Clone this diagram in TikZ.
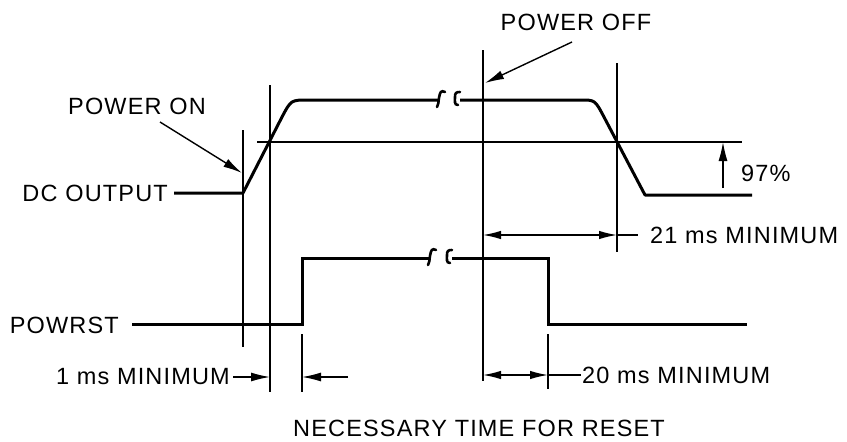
\documentclass[tikz,border=0pt]{standalone}
\usepackage{fontspec}
\setmainfont{Liberation Sans}[LetterSpace=5]
\usetikzlibrary{arrows.meta}
\tikzset{
  wave/.style={line width=3pt, line join=round},
  guide/.style={line width=1.3pt},
  dimarrow/.style={line width=1.4pt, -{Latex[length=19pt,width=9pt]}},
  dimboth/.style={line width=1.4pt, {Latex[length=18pt,width=8.5pt]}-{Latex[length=18pt,width=8.5pt]}},
  lbl/.style={inner sep=0pt, font=\fontsize{23.5}{26}\selectfont},
  brk/.style={line width=2.6pt, line cap=round}
}
\begin{document}
\begin{tikzpicture}[x=1pt,y=-1pt]
\useasboundingbox (0,0) rectangle (847,442);
% labels
\node[lbl, anchor=east] (dclbl) at (168,193) {DC OUTPUT};
\node[lbl, anchor=east] (rstlbl) at (119,325) {POWRST};
\node[lbl] (pon) at (137,106) {POWER ON};
\node[lbl] (poff) at (576,22) {POWER OFF};
\node[lbl, anchor=west] (pct) at (741,173) {97\%};
\node[lbl, anchor=west] (t21) at (650,235) {21 ms MINIMUM};
\node[lbl, anchor=west] (t20) at (582,375) {20 ms MINIMUM};
\node[lbl, anchor=east] (t1) at (230,377) {1 ms MINIMUM};
\node[lbl] (cap) at (479,428) {NECESSARY TIME FOR RESET};
% coordinates
\coordinate (dc0) at (174,193);
\coordinate (dc1) at (243,193);
\coordinate (dcr) at (282,117);
\coordinate (dcc) at (291,100);
\coordinate (dct) at (308,100);
\coordinate (dcb1) at (438,100);
\coordinate (dcb2) at (460,100);
\coordinate (dcf) at (581,100);
\coordinate (dcfc) at (595,100);
\coordinate (dcfr) at (604,117);
\coordinate (dcl) at (645,195);
\coordinate (dce) at (752,195);
\coordinate (r0) at (132,324);
\coordinate (r1) at (302,324);
\coordinate (r2) at (302,258);
\coordinate (rb1) at (429,258);
\coordinate (rb2) at (452,258);
\coordinate (r3) at (548,258);
\coordinate (r4) at (548,324);
\coordinate (r5) at (747,324);
\coordinate (p97a) at (257,142);
\coordinate (p97b) at (742,142);
% vertical guides
\coordinate (v1t) at (243,130); \coordinate (v1b) at (243,347);
\coordinate (v2t) at (270,85);  \coordinate (v2b) at (270,392);
\coordinate (v3t) at (302,334); \coordinate (v3b) at (302,392);
\coordinate (v4t) at (483,50);  \coordinate (v4b) at (483,381);
\coordinate (v5t) at (617,63);  \coordinate (v5b) at (617,252);
\coordinate (v6t) at (548,334); \coordinate (v6b) at (548,389);
% waveforms
\draw[wave] (dc0) -- (dc1) -- (dcr) .. controls (dcc) .. (dct) -- (dcb1);
\draw[wave] (dcb2) -- (dcf) .. controls (dcfc) .. (dcfr) -- (dcl) -- (dce);
\draw[wave, line join=miter] (r0) -- (r1) -- (r2) -- (rb1);
\draw[wave, line join=miter] (rb2) -- (r3) -- (r4) -- (r5);
% break marks
\draw[brk] (dcb1) ++(7,-8) .. controls +(-4,-2) and +(1,-6) .. ++(-6,6) .. controls +(-1,5) and +(2,-3) .. ++(-2,9);
\draw[brk] (dcb2) ++(0,-8) .. controls +(-4,0) and +(0,-4) .. ++(-5,5) .. controls +(0,4) and +(-4,0) .. ++(3,8);
\draw[brk] (rb1) ++(7,-8) .. controls +(-4,-2) and +(1,-6) .. ++(-6,6) .. controls +(-1,5) and +(2,-3) .. ++(-2,9);
\draw[brk] (rb2) ++(0,-8) .. controls +(-4,0) and +(0,-4) .. ++(-5,5) .. controls +(0,4) and +(-4,0) .. ++(3,8);
% 97% line and guides
\draw[guide] (p97a) -- (p97b);
\draw[guide] (v1t) -- (v1b);
\draw[guide] (v2t) -- (v2b);
\draw[guide] (v3t) -- (v3b);
\draw[guide] (v4t) -- (v4b);
\draw[guide] (v5t) -- (v5b);
\draw[guide] (v6t) -- (v6b);
% annotation arrows
\coordinate (ponA) at (160,122); \coordinate (ponB) at (242,173);
\draw[dimarrow] (ponA) -- (ponB);
\coordinate (poffA) at (572,42); \coordinate (poffB) at (485,83);
\draw[dimarrow] (poffA) -- (poffB);
\coordinate (pA) at (723,188); \coordinate (pB) at (723,142);
\draw[dimarrow] (pA) -- (pB);
% 21 ms
\coordinate (d21a) at (483,235); \coordinate (d21b) at (617,235); \coordinate (d21c) at (638,235);
\draw[dimboth] (d21a) -- (d21b);
\draw[guide] (d21b) -- (d21c);
% 20 ms
\coordinate (d20a) at (483,375); \coordinate (d20b) at (548,375); \coordinate (d20c) at (581,375);
\draw[dimboth] (d20a) -- (d20b);
\draw[guide] (d20b) -- (d20c);
% 1 ms
\coordinate (d1a) at (233,377); \coordinate (d1b) at (270,377);
\coordinate (d1c) at (348,377); \coordinate (d1d) at (302,377);
\draw[dimarrow] (d1a) -- (d1b);
\draw[dimarrow] (d1c) -- (d1d);
\end{tikzpicture}
\end{document}
